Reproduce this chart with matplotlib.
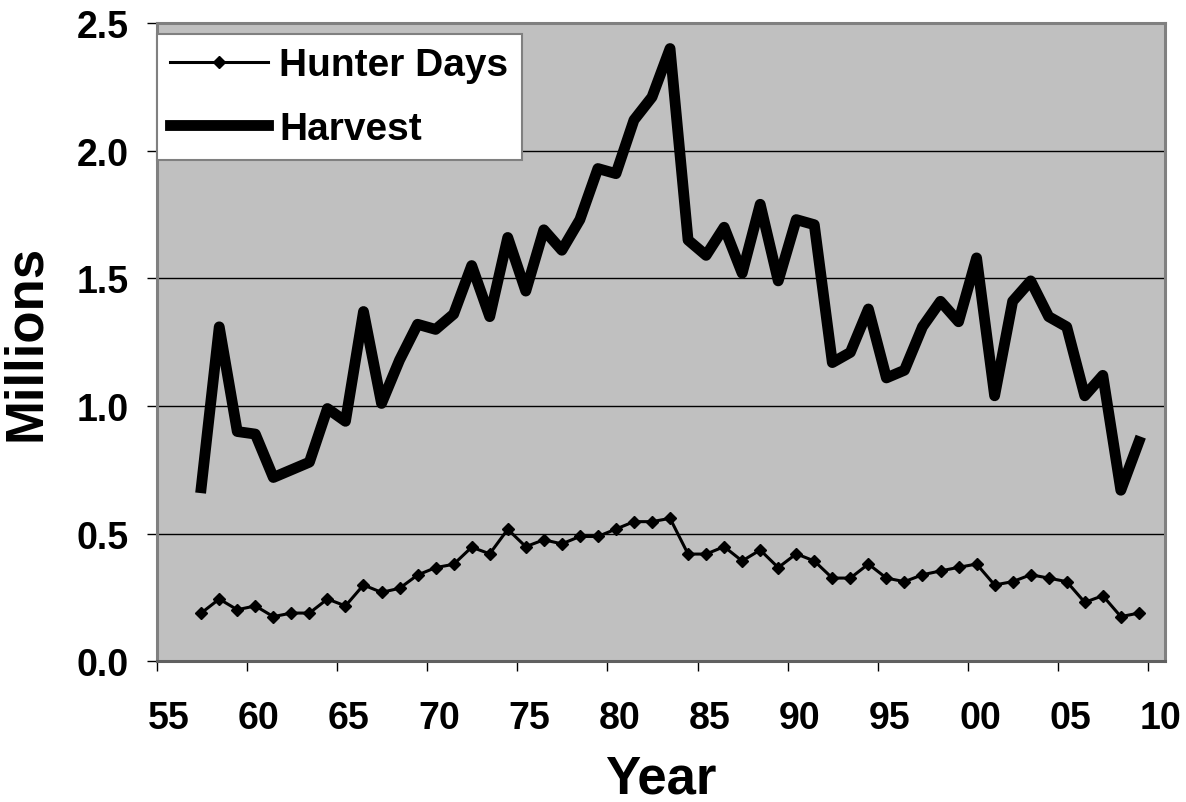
import matplotlib
matplotlib.use("Agg")
import matplotlib.pyplot as plt
import matplotlib.transforms as mtransforms
import numpy as np

plt.rcParams["font.family"] = ["Liberation Sans", "DejaVu Sans"]
plt.rcParams["font.weight"] = "bold"

years = list(range(1957, 2010))

hunter_days = [
    0.189, 0.244, 0.202, 0.217, 0.175, 0.189, 0.189, 0.244, 0.217, 0.299,
    0.270, 0.286, 0.338, 0.367, 0.380, 0.447, 0.421, 0.517, 0.449, 0.476,
    0.460, 0.489, 0.489, 0.518, 0.547, 0.547, 0.560, 0.420, 0.420, 0.449,
    0.393, 0.436, 0.367, 0.421, 0.393, 0.326, 0.326, 0.381, 0.326, 0.312,
    0.339, 0.354, 0.368, 0.381, 0.299, 0.312, 0.339, 0.326, 0.312, 0.231,
    0.257, 0.175, 0.189,
]

harvest = [
    0.68, 1.31, 0.90, 0.89, 0.72, 0.75, 0.78, 0.99, 0.94, 1.37,
    1.01, 1.18, 1.32, 1.30, 1.36, 1.55, 1.35, 1.66, 1.45, 1.69,
    1.61, 1.73, 1.93, 1.91, 2.12, 2.21, 2.40, 1.65, 1.59, 1.70,
    1.52, 1.79, 1.49, 1.73, 1.71, 1.17, 1.21, 1.38, 1.11, 1.14,
    1.31, 1.41, 1.33, 1.58, 1.04, 1.41, 1.49, 1.35, 1.31, 1.04,
    1.12, 0.67, 0.86,
]

tick_years = list(range(1955, 2011, 5))
y_ticks = [0.0, 0.5, 1.0, 1.5, 2.0, 2.5]

fig = plt.figure(figsize=(11.86, 8.03), dpi=100)
ax = fig.add_axes([0.1321, 0.1752, 0.8502, 0.7949])
ax.set_facecolor("#C0C0C0")

# values sit mid-season between the year ticks
x = np.array(years) + 0.47

ax.plot(x, hunter_days, color="black", lw=2.2, marker="D", ms=6,
        label="Hunter Days", zorder=3)
ax.plot(x, harvest, color="black", lw=7.8, marker="s", ms=3,
        label="Harvest", zorder=4)

ax.set_xlim(1955, 2010.92)
ax.set_ylim(0, 2.5)

ax.set_yticks(y_ticks)
ax.set_yticklabels([f"{v:.1f}" for v in y_ticks])
ax.set_xticks(tick_years)
ax.set_xticklabels([f"{yr % 100:02d}" for yr in tick_years])

for v in y_ticks[1:-1]:
    ax.axhline(v, color="black", lw=1.0, zorder=1)

ax.tick_params(axis="y", direction="out", length=7.2, width=1, pad=13,
               labelsize=27, colors="black")
ax.tick_params(axis="x", direction="out", length=7.2, width=1, pad=21,
               labelsize=27, colors="black")

shift = mtransforms.ScaledTranslation(8.5 / 72, 0, fig.dpi_scale_trans)
for lbl in ax.get_xticklabels():
    lbl.set_transform(lbl.get_transform() + shift)

for side in ["top", "right", "left"]:
    ax.spines[side].set_color("#808080")
    ax.spines[side].set_linewidth(2.2)
ax.spines["bottom"].set_color("#606060")
ax.spines["bottom"].set_linewidth(2.2)

ax.set_xlabel("Year", fontsize=38, fontweight="bold", labelpad=12)
ax.set_ylabel("Millions", fontsize=38, fontweight="bold", labelpad=18)

leg = ax.legend(loc="upper left", bbox_to_anchor=(0.0, 0.983),
                borderaxespad=0, fontsize=28, frameon=True, fancybox=False,
                edgecolor="#808080", facecolor="white", framealpha=1,
                handlelength=2.5, handletextpad=0.3, labelspacing=0.7,
                borderpad=0.35)
leg.get_frame().set_linewidth(1.5)
leg.set_zorder(5)

fig.savefig("out.png", dpi=100)
